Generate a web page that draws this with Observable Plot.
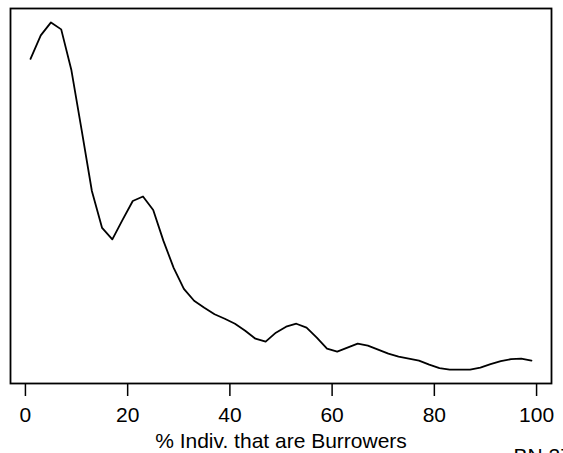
<!DOCTYPE html>
<html>
<head>
<meta charset="utf-8">
<script src="https://cdn.jsdelivr.net/npm/d3@7"></script>
<script src="https://cdn.jsdelivr.net/npm/@observablehq/plot@0.6"></script>
<style>
  html, body { margin: 0; padding: 0; background: white; overflow: hidden; }
  #chart svg { display: block; }
</style>
</head>
<body>
<div id="chart"></div>
<script>
// % of individuals that are burrowers (x) and estimated density (y)
const pctBurrowers = [1,3,5,7,9,11,13,15,17,19,21,23,25,27,29,31,33,35,37,39,41,43,45,47,49,51,53,55,57,59,61,63,65,67,69,71,73,75,77,79,81,83,85,87,89,91,93,95,97,99];
const density = [0.03245,0.0348,0.0361,0.0354,0.0313,0.0253,0.0192,0.0155,0.01435,0.0163,0.0182,0.01865,0.0173,0.0142,0.0115,0.0094,0.0082,0.0075,0.00685,0.0064,0.0059,0.0052,0.0044,0.0041,0.0050,0.0056,0.0059,0.0055,0.0045,0.0034,0.0031,0.0035,0.0039,0.0037,0.0033,0.0029,0.0026,0.0024,0.0022,0.0018,0.00145,0.0013,0.0013,0.0013,0.0015,0.00185,0.00215,0.00235,0.0024,0.0022];
const xTicks = [0, 20, 40, 60, 80, 100];
const xLabel = "% Indiv. that are Burrowers";
const cornerNote = "BN 27";

const data = pctBurrowers.map((x, i) => ({x, y: density[i]}));

const chart = Plot.plot({
  width: 563,
  height: 453,
  marginLeft: 10,
  marginRight: 12,
  marginTop: 8,
  marginBottom: 70,
  style: {fontFamily: "'Liberation Sans', Arial, sans-serif", fontSize: "21px", color: "black", background: "white"},
  x: {domain: [-2.92, 102.92]},
  y: {domain: [-0.000092, 0.037492], axis: null},
  marks: [
    Plot.axisX({ticks: xTicks, tickSize: 13, tickPadding: 11, fontSize: 21, strokeWidth: 1.5, label: null}),
    Plot.frame({stroke: "black", strokeWidth: 1.8}),
    Plot.line(data, {x: "x", y: "y", stroke: "black", strokeWidth: 1.8}),
    Plot.text([xLabel], {frameAnchor: "bottom", lineAnchor: "bottom", dy: 64, fontSize: 21, fill: "black"}),
    Plot.text([cornerNote], {frameAnchor: "bottom-right", textAnchor: "start", lineAnchor: "bottom", dx: -38, dy: 79, fontSize: 21, fill: "black"})
  ]
});
document.getElementById("chart").appendChild(chart);
</script>
</body>
</html>
